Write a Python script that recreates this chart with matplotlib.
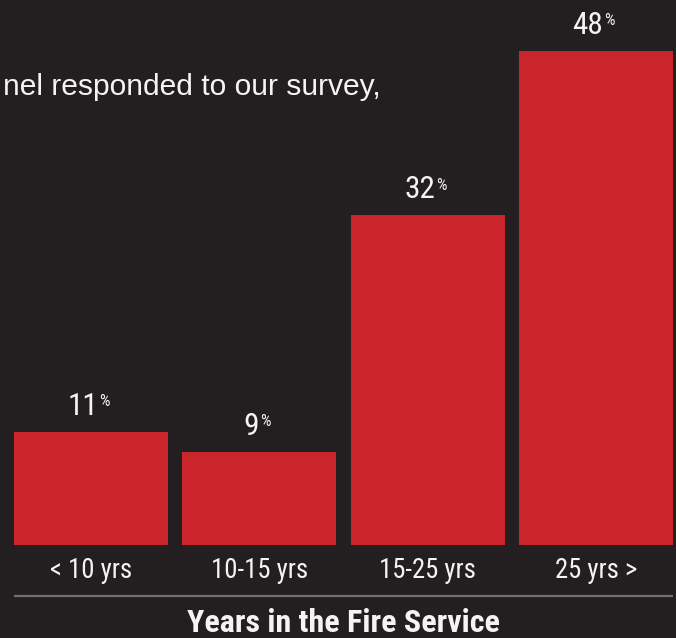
import numpy as np
import matplotlib
matplotlib.use("Agg")
import matplotlib.pyplot as plt
import matplotlib.transforms as mtransforms

# data
categories = ["< 10 yrs", "10-15 yrs", "15-25 yrs", "25 yrs >"]
shares = [11, 9, 32, 48]
title = "Years in the Fire Service"
intro = "nel responded to our survey,"

BG = "#231f20"
RED = "#c9252b"
FG = "#f4f4f4"
NARROW = ["Roboto Condensed", "Sofia Sans Condensed", "DejaVu Sans"]
PLAIN = ["Liberation Sans", "DejaVu Sans"]

fig = plt.figure(figsize=(6.76, 6.38), dpi=100, facecolor=BG)
ax = fig.add_axes([0, 0, 1, 1], facecolor=BG)

x = np.arange(len(categories))
bars = ax.bar(x, shares, width=0.915, color=RED, linewidth=0)

ax.set_xlim(-0.5406, 3.475)
ax.set_ylim(-9.03, 52.91)
ax.axis("off")

# value labels, with a small raised percent sign
for xi, v in zip(x, shares):
    num = ax.annotate(str(v), xy=(xi, v), xytext=(-5.8, 12.2),
                      textcoords="offset points", ha="center", va="baseline",
                      color=FG, fontsize=22.5, family=NARROW)
    ax.annotate("%", xy=(1, 1), xycoords=num, xytext=(0.5, -1.5),
                textcoords="offset points", ha="left", va="top",
                color=FG, fontsize=12, family=NARROW)

# category labels under the bars
for xi, c in zip(x, categories):
    ax.annotate(c, xy=(xi, 0), xytext=(0, -23.8), textcoords="offset points",
                ha="center", va="baseline", color=FG, fontsize=19.3,
                family=NARROW)

# separator line and axis title
left = x[0] - 0.915 / 2
right = x[-1] + 0.915 / 2
ax.hlines(-4.95, left, right, color="#707070", linewidth=1.6)

trans = mtransforms.blended_transform_factory(ax.transData, fig.transFigure)
ax.text(x.mean(), 1 - 632 / 638, title, transform=trans, ha="center",
        va="baseline", color=FG, fontsize=23, fontweight="bold", family=NARROW)

fig.text(3 / 676, 1 - 95 / 638, intro, ha="left", va="baseline",
         color=FG, fontsize=21.6, family=PLAIN)

fig.savefig("out.png", dpi=100, facecolor=BG)
